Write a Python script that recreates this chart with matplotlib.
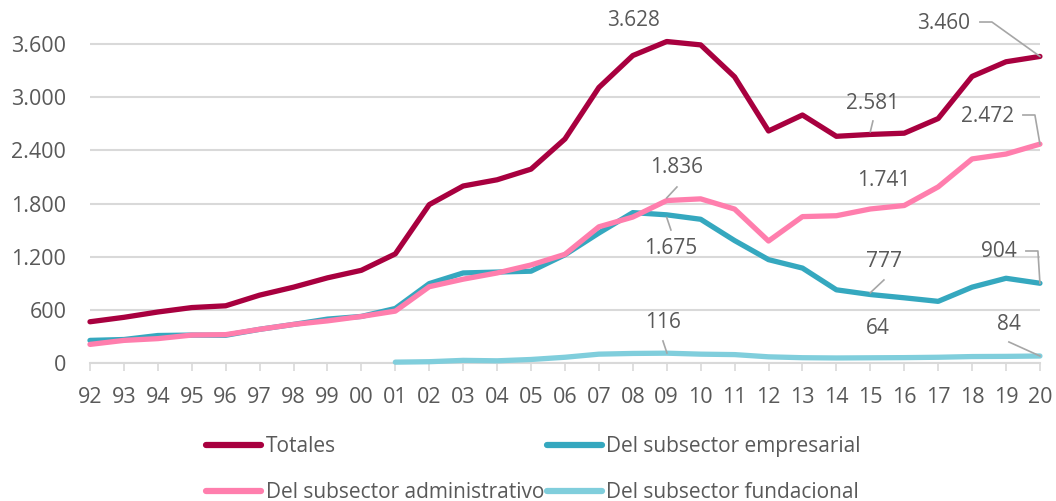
import matplotlib.pyplot as plt
from matplotlib.ticker import FuncFormatter

plt.rcParams['font.family'] = ['Open Sans', 'DejaVu Sans']

years = ['92', '93', '94', '95', '96', '97', '98', '99', '00', '01', '02', '03', '04', '05',
         '06', '07', '08', '09', '10', '11', '12', '13', '14', '15', '16', '17', '18', '19', '20']

totales = [470, 520, 580, 630, 650, 770, 860, 965, 1050, 1235, 1790, 2000, 2070, 2190,
           2530, 3110, 3470, 3628, 3590, 3230, 2620, 2800, 2560, 2581, 2595, 2760, 3235, 3400, 3460]
empresarial = [260, 270, 315, 320, 318, 385, 440, 500, 530, 620, 900, 1020, 1030, 1040,
               1225, 1470, 1700, 1675, 1625, 1385, 1170, 1075, 830, 777, 740, 700, 860, 960, 904]
administrativo = [215, 260, 280, 320, 325, 385, 440, 480, 530, 590, 865, 950, 1020, 1110,
                  1230, 1540, 1650, 1836, 1855, 1740, 1380, 1655, 1665, 1741, 1780, 1990, 2305, 2360, 2472]
# el subsector fundacional empieza en 2001
fund_years = years[9:]
fundacional = [15, 20, 35, 30, 45, 70, 105, 113, 116, 105, 100, 75, 65, 62, 64, 66, 70, 78, 80, 84]

c_tot = '#A8003F'
c_emp = '#35A8BF'
c_adm = '#FF7EAD'
c_fun = '#80CEDC'
gris = '#595959'
linea = '#A6A6A6'

fig = plt.figure(figsize=(10.56, 5.01), dpi=100)
ax = fig.add_axes([0.0852, 0.2745, 0.8996, 0.6908])

x = list(range(len(years)))
xf = [years.index(y) for y in fund_years]
lw = 3.8
l_tot, = ax.plot(x, totales, color=c_tot, lw=lw, solid_capstyle='round', clip_on=False, zorder=5,
                 label='Totales')
l_emp, = ax.plot(x, empresarial, color=c_emp, lw=lw, solid_capstyle='round', clip_on=False, zorder=3,
                 label='Del subsector empresarial')
l_adm, = ax.plot(x, administrativo, color=c_adm, lw=lw, solid_capstyle='round', clip_on=False, zorder=4,
                 label='Del subsector administrativo')
l_fun, = ax.plot(xf, fundacional, color=c_fun, lw=lw, solid_capstyle='round', clip_on=False, zorder=3,
                 label='Del subsector fundacional')

ax.set_xlim(0, len(years) - 1)
ax.set_ylim(0, 3900)
ax.set_yticks(range(0, 3601, 600))
ax.yaxis.set_major_formatter(FuncFormatter(lambda v, p: f'{int(v):,}'.replace(',', '.')))
ax.set_xticks(x)
ax.set_xticklabels(years)
ax.grid(axis='y', color='#D9D9D9', lw=1.5)
ax.set_axisbelow(True)
for s in ['top', 'right', 'left']:
    ax.spines[s].set_visible(False)
ax.spines['bottom'].set_color('#D9D9D9')
ax.spines['bottom'].set_linewidth(1.5)
ax.tick_params(axis='y', length=0, pad=17, labelsize=15.5, labelcolor=gris)
ax.tick_params(axis='x', length=6, width=1.2, color='#D9D9D9', pad=11, labelsize=15.5, labelcolor=gris)


def px(xp, yp):
    # píxeles de la figura -> coordenadas de datos
    return ((xp - 90) / 33.93, (363.5 - yp) * 3600 / 319.5)


# etiquetas de valores con sus líneas guía
def etiqueta(texto, serie, i, xy_txt, guia=None):
    ax.annotate(texto, xy=(i, serie[i]), xytext=xy_txt, textcoords='data',
                ha='center', va='center', fontsize=15, color=gris, annotation_clip=False)
    if guia:
        ax.plot(*zip(*guia), color=linea, lw=1.2, clip_on=False, zorder=6)


etiqueta('3.628', totales, 17, px(634, 20))
etiqueta('3.460', totales, 28, px(944, 23), [px(980, 22), px(992, 22), (28, totales[28])])
etiqueta('2.581', totales, 23, px(873, 103), [px(873, 121), (23, totales[23] + 30)])
etiqueta('2.472', administrativo, 28, px(988, 117),
         [px(1023, 115), px(1035, 115), (28, administrativo[28])])
etiqueta('1.836', administrativo, 17, px(677, 168), [px(677, 187), (17, administrativo[17] + 30)])
etiqueta('1.741', administrativo, 23, px(884, 181))
etiqueta('1.675', empresarial, 17, px(671, 249), [(17, empresarial[17] - 30), px(671, 230)])
etiqueta('777', empresarial, 23, px(884, 262), [px(884, 280), (23, empresarial[23] + 20)])
etiqueta('904', empresarial, 28, px(999, 252), [px(1026, 251), px(1038, 251), (28, empresarial[28])])
etiqueta('116', fundacional, 8, px(663, 323), [px(663, 341), px(667, 353)])
etiqueta('64', fundacional, 14, px(878, 329))
etiqueta('84', fundacional, 19, px(1009, 325), [px(1009, 342), (28, fundacional[19])])

# orden por columnas: Totales / administrativo | empresarial / fundacional
leg = fig.legend(handles=[l_tot, l_adm, l_emp, l_fun], loc='upper left',
                 bbox_to_anchor=(198 / 1056, 1 - 428 / 501), ncol=2, frameon=False,
                 fontsize=15, labelcolor=gris, handlelength=2.64, handletextpad=0.2,
                 columnspacing=0.15, labelspacing=1.2, borderaxespad=0)
for h in leg.get_lines():
    h.set_linewidth(4.5)
    h.set_solid_capstyle('round')

fig.savefig('out.png', dpi=100)
